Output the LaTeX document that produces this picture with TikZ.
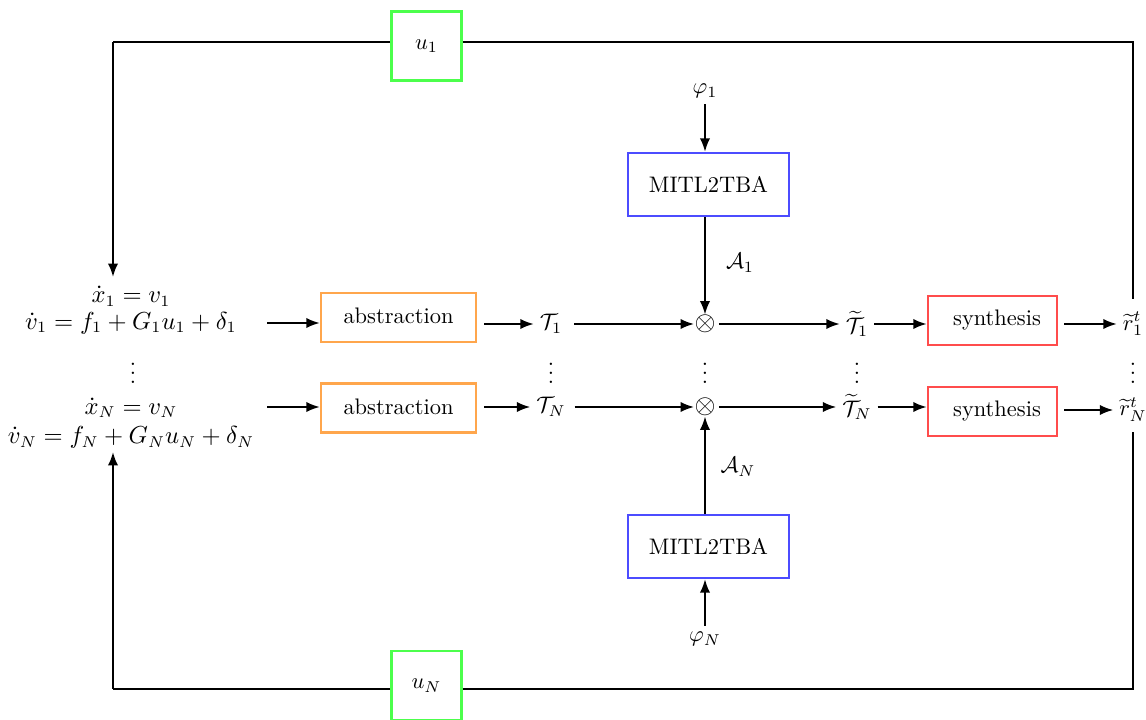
\documentclass[tikz,border=0pt]{standalone}
\usepackage{amsmath}
\usetikzlibrary{arrows.meta}
\begin{document}
\begin{tikzpicture}[x=0.4454pt,y=-0.4454pt,
  conn/.style={line width=0.9pt,-{Latex[length=6pt,width=4.6pt]}},
  line/.style={line width=0.9pt},
  boxbase/.style={draw,line width=1.1pt,rectangle,inner sep=2pt},
  absbox/.style={boxbase,draw=orange!70,minimum width=69pt,minimum height=21.8pt},
  synbox/.style={boxbase,draw=red!70,minimum width=57.5pt,minimum height=21.8pt},
  mitlbox/.style={boxbase,draw=blue!70,minimum width=71.7pt,minimum height=28pt},
  ubox/.style={boxbase,draw=green!70,minimum width=31.2pt,minimum height=30.7pt},
  lbl/.style={inner sep=2.5pt},
  eqn/.style={align=center,inner sep=1pt,font=\fontsize{10.5}{12}\selectfont}]
\useasboundingbox (0,0) rectangle (1146,720);

% equations
\node[eqn] (eq1) at (131,310) {$\dot{x}_1 = v_1$\\[0pt] $\dot{v}_1 = f_1 + G_1 u_1 + \delta_1$};
\node[eqn] (eqN) at (131,423) {$\dot{x}_N = v_N$\\[1pt] $\dot{v}_N = f_N + G_N u_N + \delta_N$};
\node (d0) at (133,367) {$\vdots$};

% abstraction
\node[absbox] (abs1) at (398.5,317.5) {\raisebox{1.5pt}{abstraction}};
\node[absbox] (absN) at (398.5,408) {\raisebox{1.5pt}{abstraction}};

% T
\node[lbl] (T1) at (551,324) {$\mathcal{T}_1$};
\node[lbl] (TN) at (551,407) {$\mathcal{T}_N$};
\node (d1) at (551,367) {$\vdots$};

% otimes
\node[inner sep=0pt] (o1) at (705,324) {\large$\otimes$};
\node[inner sep=0pt] (oN) at (705,407) {\large$\otimes$};
\node (d2) at (705,367) {$\vdots$};

% T tilde
\node[lbl] (Tt1) at (857,324) {$\widetilde{\mathcal{T}}_1$};
\node[lbl] (TtN) at (857,407) {$\widetilde{\mathcal{T}}_N$};
\node (d3) at (857,367) {$\vdots$};

% synthesis
\node[synbox] (syn1) at (992.5,320.5) {\hspace*{4pt}synthesis};
\node[synbox] (synN) at (992.5,411.5) {\hspace*{4pt}synthesis};

% r
\node[lbl] (r1) at (1133,324) {$\widetilde{r}_1^t$};
\node[lbl] (rN) at (1133,410) {$\widetilde{r}_N^t$};
\node (d4) at (1133,367) {$\vdots$};

% MITL2TBA
\node[mitlbox] (m1) at (708.5,184.5) {MITL2TBA};
\node[mitlbox] (mN) at (708.5,546.5) {MITL2TBA};
\node[lbl] (phi1) at (705,91) {$\varphi_1$};
\node[lbl] (phiN) at (705,639) {$\varphi_N$};

% u boxes
\node[ubox] (u1) at (426.5,46) {\raisebox{-1.5pt}{$u_1$}};
\node[ubox] (uN) at (426.5,685.5) {\raisebox{-1.5pt}{$u_N$}};

% coordinates
\coordinate (tl) at (113,42);
\coordinate (tr) at (1133,42);
\coordinate (bl) at (113,689);
\coordinate (br) at (1133,689);
\coordinate (tlend) at (113,277);
\coordinate (blend) at (113,452);
\coordinate (trend) at (1133,299);
\coordinate (brend) at (1133,432);
\coordinate (s1) at (267,323);
\coordinate (sN) at (267,407);

% connectors
\draw[conn] (s1) -- (s1 -| abs1.west);
\draw[conn] (sN) -- (sN -| absN.west);
\draw[conn] (abs1.east |- T1) ++(7,0) -- (T1.west);
\draw[conn] (absN.east |- TN) ++(7,0) -- (TN.west);
\draw[conn] (T1.east) ++(6,0) -- (o1.west);
\draw[conn] (TN.east) ++(3,0) -- (oN.west);
\draw[conn] (o1.east) ++(3,0) -- (Tt1.west);
\draw[conn] (oN.east) ++(3,0) -- (TtN.west);
\draw[conn] (Tt1.east) -- (Tt1.east -| syn1.west);
\draw[conn] (TtN.east) -- (TtN.east -| synN.west);
\draw[conn] (syn1.east |- r1) ++(6,0) -- (r1.west);
\draw[conn] (synN.east |- rN) ++(6,0) -- (rN.west);

\draw[conn] (phi1.south) -- (m1.north -| phi1);
\draw[conn] (m1.south -| o1) -- (o1.north);
\draw[conn] (phiN.north) -- (mN.south -| phiN);
\draw[conn] (mN.north -| oN) -- (oN.south);
\node[lbl] (A1) at (740,263) {$\mathcal{A}_1$};
\node[lbl] (AN) at (738,467) {$\mathcal{A}_N$};

% feedback loops
\draw[line] (tl -| u1.west) -- (tl);
\draw[conn] (tl) -- (tlend);
\draw[line] (tl -| u1.east) -- (tr) -- (trend);
\draw[line] (bl -| uN.west) -- (bl);
\draw[conn] (bl) -- (blend);
\draw[line] (bl -| uN.east) -- (br) -- (brend);
\end{tikzpicture}
\end{document}
